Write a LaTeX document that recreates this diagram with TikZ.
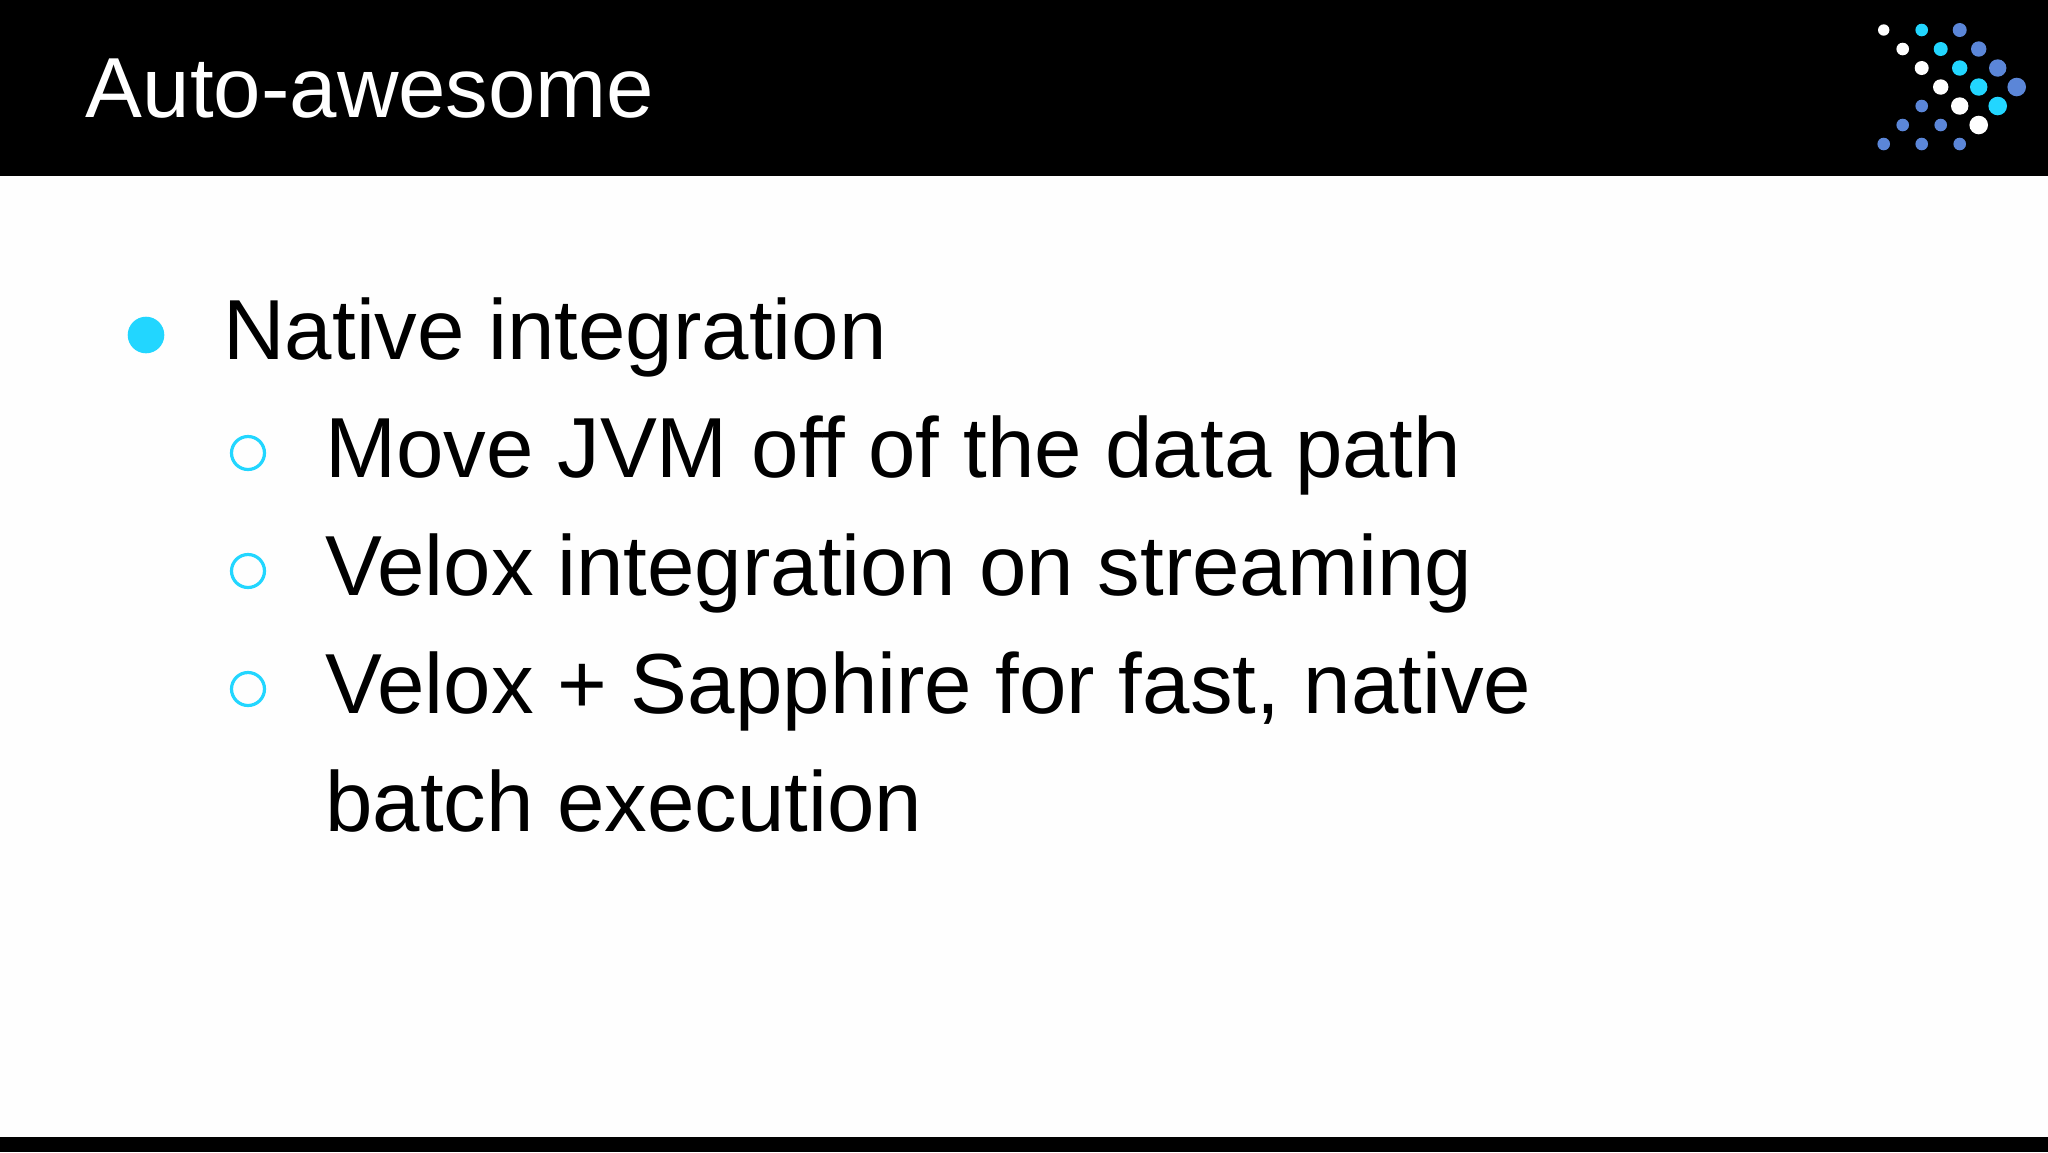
\documentclass[tikz,border=0pt]{standalone}
\usepackage{fontspec}
\setmainfont{Liberation Sans}
\definecolor{dotcyan}{HTML}{22D6FF}
\definecolor{dotblue}{HTML}{5B86D8}
\tikzset{
	slidetext/.style={anchor=base west,inner sep=0,font=\fontsize{42.62}{50}\selectfont}
}
\begin{document}
\begin{tikzpicture}[x=.5pt,y=-.5pt]
	\useasboundingbox (0,0) rectangle (2048,1152);
	\fill[white!99.5!black] (0,0) rectangle (2048,1152);
	\fill[black] (0,0) rectangle (2048,176);
	\fill[black] (0,1137) rectangle (2048,1152);
	% logo, grid of 19 px
	\foreach \gx/\gy/\rad in {0/0/5.7,1/1/6.3,2/2/7,3/3/7.7,4/4/8.7,5/5/9.3}
		\fill[white] (1883.7+19*\gx,30+19*\gy) circle[radius=\rad];
	\foreach \gx/\gy/\rad in {2/0/6.3,3/1/7,4/2/7.7,5/3/8.7,6/4/9.3}
		\fill[dotcyan] (1883.7+19*\gx,30+19*\gy) circle[radius=\rad];
	\foreach \gx/\gy/\rad in {4/0/7,5/1/7.7,6/2/8.7,7/3/9.3,2/4/6.3,1/5/6.3,3/5/6.3,0/6/6.3,2/6/6.3,4/6/6.3}
		\fill[dotblue] (1883.7+19*\gx,30+19*\gy) circle[radius=\rad];
	% title and bullets
	\node[slidetext,text=white] (title) at (85.5,117.5) {Auto-awesome};
	\fill[dotcyan] (146,335) circle[radius=18.3];
	\node[slidetext] (native) at (223,359.5) {Native integration};
	\foreach \by in {453,571,689}
		\draw[dotcyan,line width=1.6pt] (248,\by) circle[radius=16.5];
	\node[slidetext] (jvm) at (325,477.5) {Move JVM off of the data path};
	\node[slidetext] (streaming) at (325,595.5) {Velox integration on streaming};
	\node[slidetext] (sapphire) at (325,713.5) {Velox + Sapphire for fast, native};
	\node[slidetext] (batch) at (325,831.5) {batch execution};
\end{tikzpicture}
\end{document}
